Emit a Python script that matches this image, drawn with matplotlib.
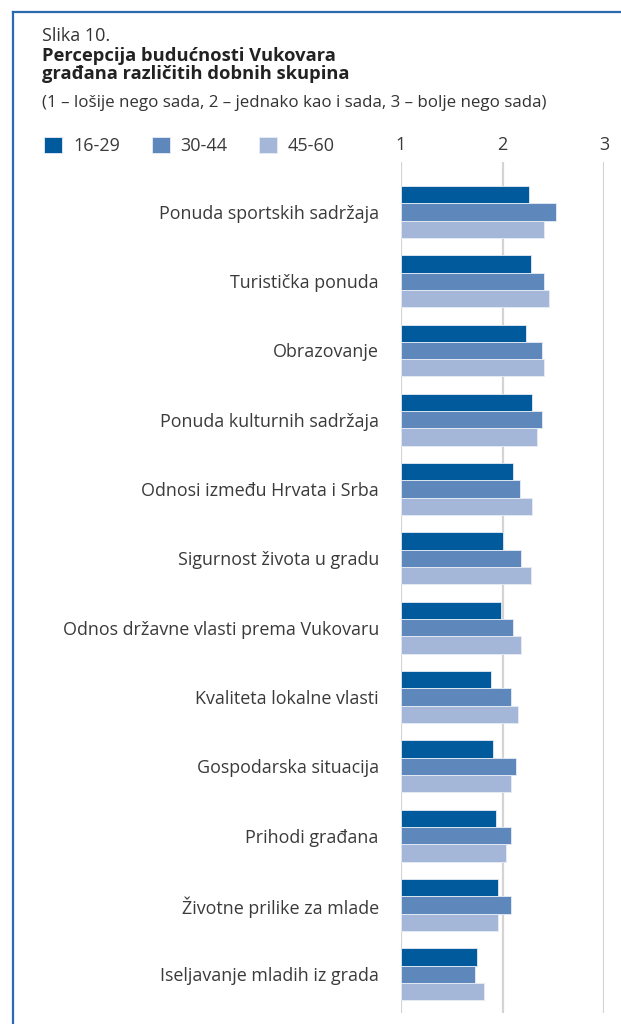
"""Perception of Vukovar's future by age group: grouped horizontal bars."""

import numpy as np
import matplotlib
matplotlib.use("Agg")
import matplotlib.pyplot as plt
from matplotlib.lines import Line2D

plt.rcParams['font.family'] = ['Open Sans', 'DejaVu Sans']

categories = [
    "Ponuda sportskih sadržaja",
    "Turistička ponuda",
    "Obrazovanje",
    "Ponuda kulturnih sadržaja",
    "Odnosi između Hrvata i Srba",
    "Sigurnost života u gradu",
    "Odnos državne vlasti prema Vukovaru",
    "Kvaliteta lokalne vlasti",
    "Gospodarska situacija",
    "Prihodi građana",
    "Životne prilike za mlade",
    "Iseljavanje mladih iz grada",
]
age_groups = ["16-29", "30-44", "45-60"]
v_16_29 = [2.26, 2.28, 2.23, 2.29, 2.10, 2.00, 1.99, 1.89, 1.91, 1.94, 1.96, 1.75]
v_30_44 = [2.53, 2.41, 2.39, 2.39, 2.17, 2.18, 2.10, 2.08, 2.13, 2.08, 2.08, 1.73]
v_45_60 = [2.41, 2.46, 2.41, 2.34, 2.29, 2.28, 2.18, 2.15, 2.08, 2.03, 1.96, 1.82]
xticks = [1, 2, 3]

colors = ["#005a9c", "#5e88bc", "#a4b7d9"]
text_col = "#3a3a3a"

W, H = 621, 1024
fig = plt.figure(figsize=(W / 100, H / 100), dpi=100)

# blue frame lines (left and top)
fig.add_artist(Line2D([13 / W, 13 / W], [0, 1 - 12 / H], color="#2a6aae", lw=1.6))
fig.add_artist(Line2D([13 / W, 1], [1 - 12 / H, 1 - 12 / H], color="#2a6aae", lw=1.6))

fig.text(42 / W, 1 - 27 / H, "Slika 10.", fontsize=13, color="#333333", va="top")
fig.text(42 / W, 1 - 47 / H, "Percepcija budućnosti Vukovara\ngrađana različitih dobnih skupina",
         fontsize=13.2, fontweight="bold", color="#222222", va="top", linespacing=0.98)
fig.text(42 / W, 1 - 95 / H, "(1 – lošije nego sada, 2 – jednako kao i sada, 3 – bolje nego sada)",
         fontsize=12.2, color="#333333", va="top")

ax = fig.add_axes([401 / W, 11 / H, 203 / W, 851 / H])
y = np.arange(len(categories))
h = 0.25
series = [v_16_29, v_30_44, v_45_60]
bars = []
for k, vals in enumerate(series):
    b = ax.barh(y + (k - 1) * h, np.array(vals) - 1, left=1, height=h,
                color=colors[k], edgecolor="#e6ecf5", linewidth=0.6,
                label=age_groups[k], zorder=3)
    bars.append(b)

ax.set_xlim(1, 3)
ax.set_ylim(11.56, -0.72)
ax.set_xticks(xticks)
ax.xaxis.tick_top()
ax.tick_params(axis="x", length=0, pad=6, labelsize=13, labelcolor=text_col)
ax.set_yticks(y)
ax.set_yticklabels(categories)
ax.tick_params(axis="y", length=0, pad=16, labelsize=12.9, labelcolor=text_col)
ax.grid(axis="x", color="#d4d4d4", lw=1.6, zorder=0)
for s in ax.spines.values():
    s.set_visible(False)

fig.legend(handles=bars, labels=age_groups, loc="center left",
           bbox_to_anchor=(28 / W, 1 - 146 / H), ncol=3, frameon=False,
           fontsize=13, handlelength=1.0, handleheight=1.0, handletextpad=0.6,
           columnspacing=1.75, labelcolor=text_col)

fig.savefig("out.png", dpi=100)
